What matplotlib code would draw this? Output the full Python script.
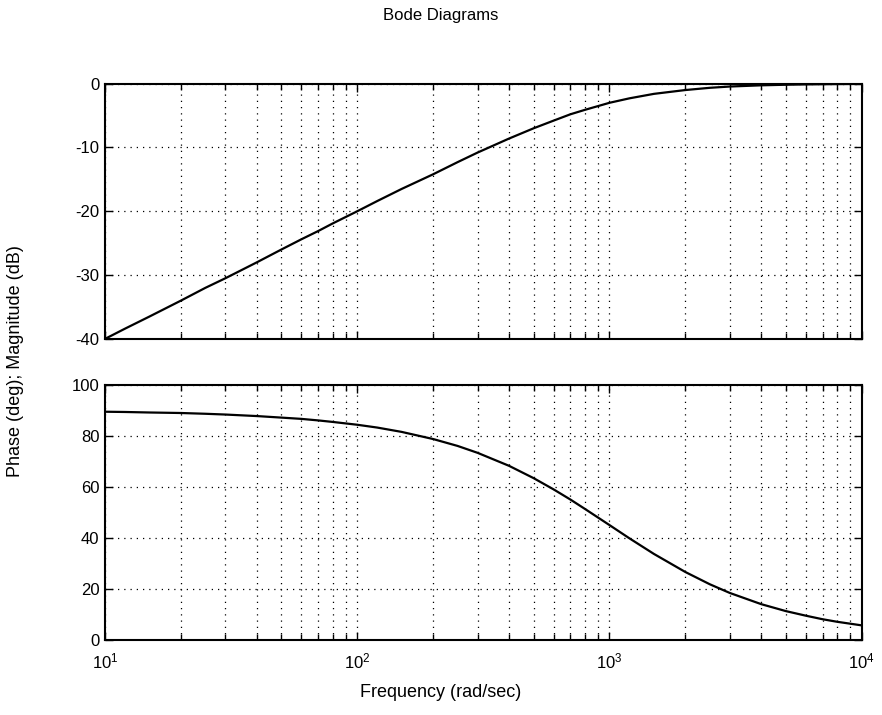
import matplotlib
matplotlib.use("Agg")
import matplotlib.pyplot as plt
from matplotlib.ticker import LogLocator, NullFormatter
import numpy as np

plt.rcParams["font.family"] = ["Liberation Sans", "DejaVu Sans"]
plt.rcParams["axes.unicode_minus"] = False

# values (frequency in rad/sec)
FREQ = [10, 12, 15, 20, 25, 30, 40, 50, 60, 70, 80, 100, 120, 150, 200, 250,
        300, 400, 500, 600, 700, 800, 1000, 1200, 1500, 2000, 2500, 3000,
        4000, 5000, 6000, 7000, 8000, 10000]
MAG_DB = [-40.0, -38.4, -36.5, -34.0, -32.0, -30.5, -28.0, -26.0, -24.4,
          -23.1, -21.9, -20.0, -18.4, -16.5, -14.2, -12.3, -10.8, -8.6,
          -7.0, -5.8, -4.8, -4.1, -3.0, -2.3, -1.6, -1.0, -0.65, -0.45,
          -0.26, -0.17, -0.12, -0.09, -0.07, -0.04]
PHASE_DEG = [89.4, 89.3, 89.1, 88.9, 88.6, 88.3, 87.7, 87.1, 86.6, 86.0,
             85.4, 84.3, 83.2, 81.5, 78.7, 76.0, 73.3, 68.2, 63.4, 59.0,
             55.0, 51.3, 45.0, 39.8, 33.7, 26.6, 21.8, 18.4, 14.0, 11.3,
             9.5, 8.1, 7.1, 5.7]

MAG_TICKS = [-40, -30, -20, -10, 0]
PHASE_TICKS = [0, 20, 40, 60, 80, 100]


def style_axes(ax, yticks):
    ax.set_xscale("log")
    ax.set_xlim(10, 1e4)
    ax.set_yticks(yticks)
    ax.set_ylim(yticks[0], yticks[-1])
    ax.xaxis.set_minor_locator(LogLocator(base=10, subs=np.arange(2, 10)))
    ax.xaxis.set_minor_formatter(NullFormatter())
    ax.grid(which="both", axis="x", color="black", linestyle=(0, (1, 4)), linewidth=0.9)
    ax.grid(which="major", axis="y", color="black", linestyle=(0, (1, 4)), linewidth=0.9)
    ax.tick_params(which="both", direction="in", top=True, right=True, labelsize=12,
                   width=1.0)
    ax.tick_params(which="major", length=6)
    ax.tick_params(which="minor", length=4)
    ax.tick_params(axis="x", pad=8)
    ax.tick_params(axis="y", pad=4)
    for s in ax.spines.values():
        s.set_linewidth(1.5)


fig = plt.figure(figsize=(8.82, 7.15), dpi=100)
ax1 = fig.add_axes([0.119, 0.526, 0.858, 0.357])
ax2 = fig.add_axes([0.119, 0.105, 0.858, 0.357])

ax1.plot(FREQ, MAG_DB, color="black", linewidth=1.6)
style_axes(ax1, MAG_TICKS)
ax1.set_xticklabels([])

ax2.plot(FREQ, PHASE_DEG, color="black", linewidth=1.6)
style_axes(ax2, PHASE_TICKS)

fig.text(0.5, 0.978, "Bode Diagrams", ha="center", va="center", fontsize=12)
fig.text(0.5, 0.031, "Frequency (rad/sec)", ha="center", va="center", fontsize=13)
fig.text(0.018, 0.495, "Phase (deg); Magnitude (dB)", ha="center", va="center",
         rotation=90, fontsize=13)

fig.savefig("out.png", dpi=100)
